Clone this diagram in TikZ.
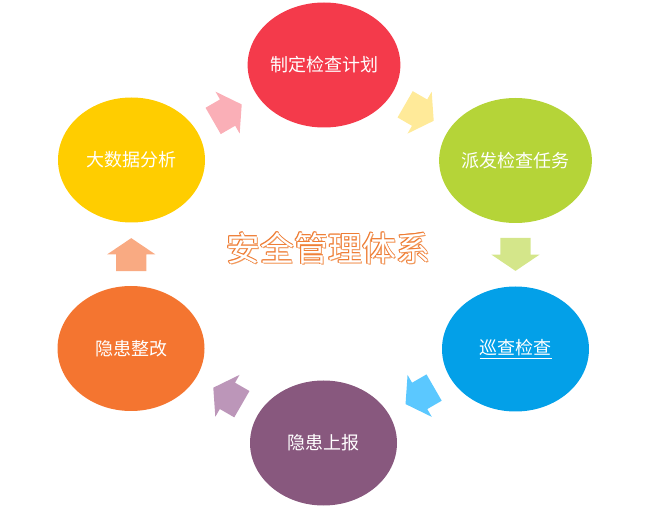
\documentclass[tikz,border=0pt]{standalone}
\usepackage{fontspec}
\newfontfamily\cjk{Noto Sans CJK SC}
\usetikzlibrary{shapes.geometric,shapes.arrows,calc}

\definecolor{planred}{HTML}{F43A4B}
\definecolor{assigngreen}{HTML}{B5D438}
\definecolor{patrolblue}{HTML}{03A0E8}
\definecolor{reportpurple}{HTML}{88587E}
\definecolor{fixorange}{HTML}{F47530}
\definecolor{datayellow}{HTML}{FFCD00}
\definecolor{arrpink}{HTML}{FAAFB7}
\definecolor{arryellow}{HTML}{FFEA99}
\definecolor{arrgreen}{HTML}{D4E68A}
\definecolor{arrblue}{HTML}{5BC8FF}
\definecolor{arrmauve}{HTML}{BC96B9}
\definecolor{arrpeach}{HTML}{F9AA82}
\definecolor{titleedge}{HTML}{EE7D35}
\definecolor{titleshadow}{HTML}{F39A5C}

\tikzset{
	stage/.style={ellipse,fill=#1,minimum width=147pt,minimum height=125pt,inner sep=0pt,
		text=white,font=\cjk\fontsize{18}{20}\selectfont},
	flow/.style={single arrow,fill=#1,draw=none,minimum height=33pt,inner xsep=0pt,inner ysep=15pt,
		single arrow head extend=9pt,single arrow tip angle=112,single arrow head indent=0pt},
	titletext/.style={font=\cjk\fontsize{34}{38}\selectfont,inner sep=0pt}
}

\begin{document}
\begin{tikzpicture}[x=1pt,y=1pt]
	\useasboundingbox (0,0) rectangle (646,512);

	\node[stage=planred] (plan) at (324,447) {制定检查计划};
	\node[stage=assigngreen] (assign) at (515.5,351.5) {派发检查任务};
	\node[stage=patrolblue] (patrol) at (515.5,163) {\underline{巡查检查}};
	\node[stage=reportpurple] (report) at (323.5,69) {隐患上报};
	\node[stage=fixorange] (fix) at (131,163.5) {隐患整改};
	\node[stage=datayellow] (data) at (131.5,352) {大数据分析};

	\node[flow=arrpink,rotate=30,xshift=-5.5pt] (a1) at ($(data)!0.5!(plan)$) {};
	\node[flow=arryellow,rotate=-30,xshift=-5.5pt] (a2) at ($(plan)!0.5!(assign)$) {};
	\node[flow=arrgreen,rotate=-90,xshift=-5.5pt] (a3) at ($(assign)!0.5!(patrol)$) {};
	\node[flow=arrblue,rotate=-150,xshift=-5.5pt] (a4) at ($(patrol)!0.5!(report)$) {};
	\node[flow=arrmauve,rotate=150,xshift=-5.5pt] (a5) at ($(report)!0.5!(fix)$) {};
	\node[flow=arrpeach,rotate=90,xshift=-5.5pt] (a6) at ($(fix)!0.5!(data)$) {};

	% title: shadow, outline, white face
	\coordinate (title) at (328,264);
	\node[titletext,text=titleshadow] at ([shift={(1.8,-1.8)}]title) {安全管理体系};
	\foreach \a in {0,45,...,315}
		\node[titletext,text=titleedge] at ([shift={(\a:0.9)}]title) {安全管理体系};
	\node[titletext,text=white] (head) at (title) {安全管理体系};
\end{tikzpicture}
\end{document}
